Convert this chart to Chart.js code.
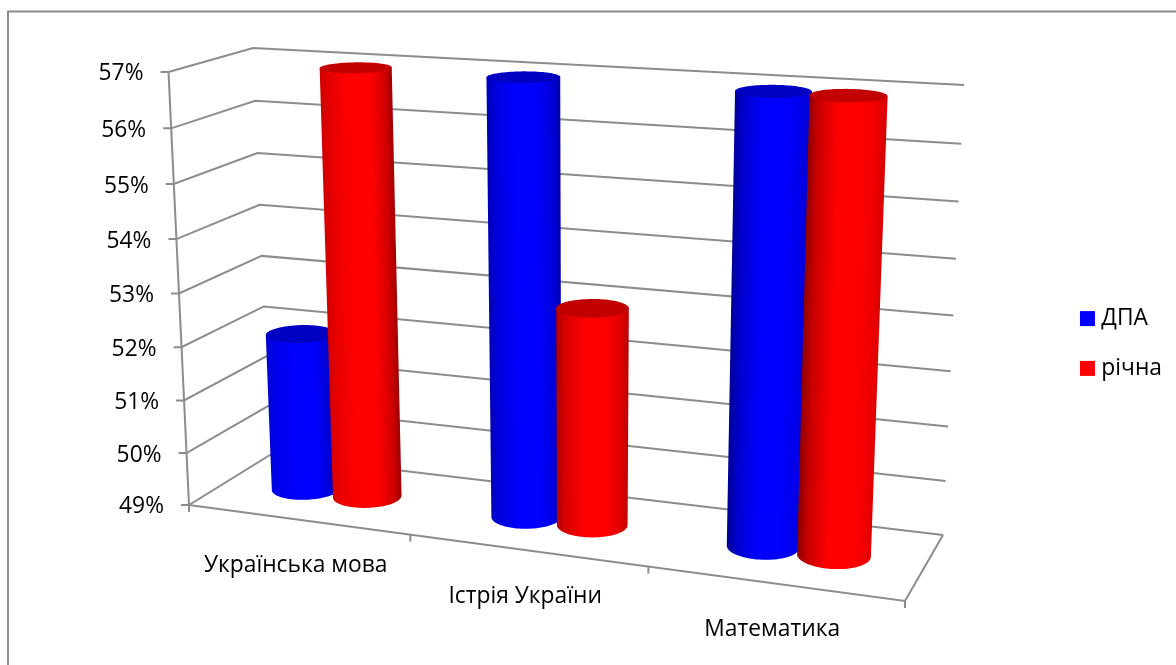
<!DOCTYPE html>
<html>
<head>
<meta charset="utf-8">
<title>ДПА / річна</title>
<script src="https://cdn.jsdelivr.net/npm/chart.js@4"></script>
<style>
  html, body { margin: 0; padding: 0; background: #fff; }
  canvas { display: block; }
</style>
</head>
<body>
<canvas id="chart" width="1176" height="665"></canvas>
<script>
const categories = ['Українська мова', 'Істрія України', 'Математика'];
const dpaValues = [52, 57, 57];
const richnaValues = [57, 53, 57];

const GRID = '#8c8c8c';
const FONT_FAMILY = '"Open Sans", Lato, "Noto Sans", sans-serif';
const FONT = '22.8px ' + FONT_FAMILY;

// Кути 3D-коробки на екрані: [u, v, d] -> пікселі
const BOX = {
  '000': [189, 505], '100': [905, 601], '001': [270, 455], '101': [943, 535],
  '010': [168.5, 72], '110': [924, 118], '011': [253, 48], '111': [964, 85]
};
const PERSP = { u: -0.105, v: -0.045, d: 0.066 };

function project(u, v, d) {
  let x = 0, y = 0, sum = 0;
  for (const key in BOX) {
    const [a, b, c] = key.split('').map(Number);
    const t = (a ? u : 1 - u) * (b ? v : 1 - v) * (c ? d : 1 - d);
    const w = t * (1 + PERSP.u * a + PERSP.v * b + PERSP.d * c);
    x += w * BOX[key][0];
    y += w * BOX[key][1];
    sum += w;
  }
  return [x / sum, y / sum];
}

function shade(rgb, k) {
  return `rgb(${rgb.map(c => Math.round(c * k)).join(',')})`;
}

function polyline(ctx, pts) {
  ctx.beginPath();
  pts.forEach((p, i) => i ? ctx.lineTo(p[0], p[1]) : ctx.moveTo(p[0], p[1]));
  ctx.stroke();
}

function drawBox(chart) {
  const { ctx, chartArea: area } = chart;
  const { x: xs, y: ys } = chart.scales;
  ctx.strokeStyle = GRID;
  ctx.lineWidth = 2;
  ctx.fillStyle = '#000';
  ctx.font = FONT;

  ys.ticks.forEach(t => {
    const v = (area.bottom - ys.getPixelForValue(t.value)) / area.height;
    const front = project(0, v, 0);
    polyline(ctx, [[front[0] - 8, front[1]], front, project(0, v, 1), project(1, v, 1)]);
    ctx.textAlign = 'right';
    ctx.textBaseline = 'middle';
    ctx.fillText(t.value + '%', front[0] - 25, front[1] + 2);
  });
  polyline(ctx, [project(0, 0, 0), project(0, 1, 0)]);
  polyline(ctx, [project(0, 0, 0), project(1, 0, 0), project(1, 0, 1)]);

  const n = categories.length;
  for (let i = 0; i <= n; i++) {
    const p = project(i / n, 0, 0);
    polyline(ctx, [p, [p[0], p[1] + 7]]);
  }
  xs.ticks.forEach((t, i) => {
    const u = (xs.getPixelForTick(i) - area.left) / area.width;
    const p = project(u, 0, 0);
    ctx.textAlign = 'center';
    ctx.textBaseline = 'middle';
    ctx.fillText(categories[t.value], p[0] - 2, p[1] + 46);
  });
}

function ring(uc, v, ru, rd) {
  const pts = [];
  for (let a = 0; a < 360; a += 4) {
    const r = a * Math.PI / 180;
    pts.push(project(uc + ru * Math.cos(r), v, 0.5 + rd * Math.sin(r)));
  }
  return pts;
}

function drawCylinder(ctx, area, bar, rgb) {
  const uc = (bar.x - area.left) / area.width;
  const ru = bar.width / 2 / area.width;
  const rd = 0.2;
  const top = ring(uc, (area.bottom - bar.y) / area.height, ru, rd);
  const bottom = ring(uc, (area.bottom - bar.base) / area.height, ru, rd);
  const edge = pts => {
    let l = 0, r = 0;
    pts.forEach((p, i) => {
      if (p[0] < pts[l][0]) l = i;
      if (p[0] > pts[r][0]) r = i;
    });
    return [l, r];
  };
  const [tl, tr] = edge(top);
  const [bl, br] = edge(bottom);

  ctx.beginPath();
  ctx.moveTo(top[tl][0], top[tl][1]);
  for (let i = bl; ; i = (i + 1) % bottom.length) {
    ctx.lineTo(bottom[i][0], bottom[i][1]);
    if (i === br) break;
  }
  ctx.lineTo(top[tr][0], top[tr][1]);
  ctx.closePath();

  const midL = [(top[tl][0] + bottom[bl][0]) / 2, (top[tl][1] + bottom[bl][1]) / 2];
  const midR = [(top[tr][0] + bottom[br][0]) / 2, (top[tr][1] + bottom[br][1]) / 2];
  const g = ctx.createLinearGradient(midL[0], midL[1], midR[0], midR[1]);
  const left = 0.9 - 0.4 * uc;
  const right = 0.55 + 0.35 * uc;
  g.addColorStop(0, shade(rgb, left));
  g.addColorStop(0.12, shade(rgb, (left + 1) / 2));
  g.addColorStop(0.4, shade(rgb, 1));
  g.addColorStop(0.68, shade(rgb, 1));
  g.addColorStop(0.9, shade(rgb, (right + 1) / 2));
  g.addColorStop(1, shade(rgb, right));
  ctx.fillStyle = g;
  ctx.fill();

  ctx.beginPath();
  top.forEach((p, i) => i ? ctx.lineTo(p[0], p[1]) : ctx.moveTo(p[0], p[1]));
  ctx.closePath();
  ctx.fillStyle = shade(rgb, 0.76);
  ctx.fill();
}

const colours = [[0, 0, 255], [255, 0, 0]];

const scene3d = {
  id: 'scene3d',
  beforeDraw(chart) {
    const { ctx, width, height } = chart;
    ctx.save();
    ctx.fillStyle = '#fff';
    ctx.fillRect(0, 0, width, height);
    // рамка видна лише зліва і зверху
    ctx.strokeStyle = GRID;
    ctx.lineWidth = 2;
    polyline(ctx, [[8, height], [8, 11.5], [width, 11.5]]);
    ctx.restore();
  },
  beforeDatasetsDraw(chart) {
    const { ctx, chartArea: area } = chart;
    ctx.save();
    drawBox(chart);
    categories.forEach((c, i) => {
      chart.data.datasets.forEach((ds, j) => {
        drawCylinder(ctx, area, chart.getDatasetMeta(j).data[i], colours[j]);
      });
    });
    ctx.restore();
    return false;
  }
};

new Chart(document.getElementById('chart'), {
  type: 'bar',
  data: {
    labels: categories,
    datasets: [
      { label: 'ДПА', data: dpaValues, backgroundColor: '#0000ff' },
      { label: 'річна', data: richnaValues, backgroundColor: '#ff0000' }
    ]
  },
  plugins: [scene3d],
  options: {
    responsive: false,
    animation: false,
    layout: { padding: { top: 22, right: 4 } },
    datasets: { bar: { barPercentage: 1, categoryPercentage: 0.571, base: 49 } },
    scales: {
      x: { display: false },
      y: { display: false, min: 49, max: 57, ticks: { stepSize: 1 } }
    },
    plugins: {
      tooltip: { enabled: false },
      legend: {
        position: 'right',
        labels: {
          color: '#000',
          font: { family: FONT_FAMILY, size: 22.8 },
          boxWidth: 5,
          boxHeight: 5,
          padding: 27,
          generateLabels: chart => chart.data.datasets.map((ds, i) => ({
            text: ds.label,
            fillStyle: ds.backgroundColor,
            strokeStyle: ds.backgroundColor,
            lineWidth: 10,
            lineJoin: 'miter',
            lineCap: 'butt',
            datasetIndex: i
          }))
        }
      }
    }
  }
});
</script>
</body>
</html>
